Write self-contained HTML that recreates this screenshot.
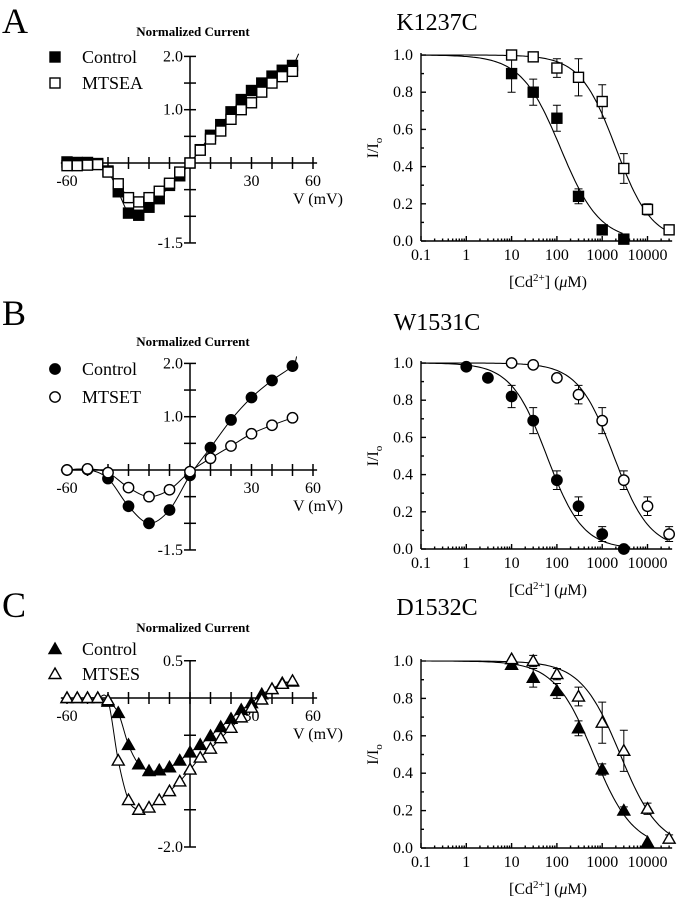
<!DOCTYPE html>
<html><head><meta charset="utf-8">
<style>
body{margin:0;background:#fff;}
svg{display:block;font-family:"Liberation Serif",serif;}
</style></head>
<body>
<svg id="fig" width="682" height="899" viewBox="0 0 682 899" xmlns="http://www.w3.org/2000/svg">
<g>
<text x="2" y="33" font-size="36">A</text>
<text x="437" y="30" font-size="24" text-anchor="middle">K1237C</text>
</g>
<g>
<text x="2" y="325" font-size="36">B</text>
<text x="437" y="330" font-size="24" text-anchor="middle">W1531C</text>
</g>
<g>
<text x="2" y="617" font-size="36">C</text>
<text x="437" y="615" font-size="24" text-anchor="middle">D1532C</text>
</g>
</svg>
<script>
// ---- IV data ----
const ivVA = [-60,-55,-50,-45,-40,-35,-30,-25,-20,-15,-10,-5,0,5,10,15,20,25,30,35,40,45,50];
const ivA_control = [0.02,0.01,0.01,-0.01,-0.15,-0.54,-0.94,-0.98,-0.83,-0.67,-0.42,-0.24,0,0.25,0.52,0.72,0.96,1.19,1.36,1.5,1.63,1.74,1.83];
const ivA_mtsea = [-0.05,-0.05,-0.04,-0.03,-0.17,-0.39,-0.65,-0.73,-0.65,-0.53,-0.38,-0.17,0,0.24,0.45,0.6,0.82,1.0,1.13,1.33,1.5,1.62,1.72];
const ivVB = [-60,-50,-40,-30,-20,-10,0,10,20,30,40,50];
const ivB_control = [0,0.01,-0.16,-0.68,-1.0,-0.75,-0.1,0.42,0.94,1.36,1.68,1.95];
const ivB_mtset = [0,0.02,-0.05,-0.33,-0.5,-0.37,-0.03,0.22,0.45,0.68,0.84,0.98];
const ivVC = [-60,-55,-50,-45,-40,-35,-30,-25,-20,-15,-10,-5,0,5,10,15,20,25,30,35,40,45,50];
const ivC_control = [0,0,0,0,-0.05,-0.2,-0.63,-0.89,-0.98,-0.97,-0.93,-0.84,-0.73,-0.63,-0.51,-0.39,-0.28,-0.16,-0.07,0.05,0.12,0.2,0.22];
const ivC_mtses = [0,0,0,0,-0.03,-0.84,-1.37,-1.5,-1.47,-1.37,-1.25,-1.12,-0.96,-0.8,-0.68,-0.54,-0.4,-0.26,-0.13,-0.02,0.12,0.19,0.23];
const ivYTicksAB = [2.0,1.5,1.0,0.5,0,-0.5,-1.0,-1.5];
const ivYLabelsAB = ["2.0","1.0","-1.5"];
const ivYTicksC = [0.5,0,-0.5,-1.0,-1.5,-2.0];
const ivYLabelsC = ["0.5","-2.0"];
const ivXTicks = [-60,-50,-40,-30,-20,-10,0,10,20,30,40,50,60];
const ivXLabels = ["-60","30","60"];
// ---- dose-response data ----
const drA_cConc = [10,30,100,300,1000,3000];
const drA_cVal = [0.9,0.8,0.66,0.24,0.06,0.01];
const drA_cErr = [0.1,0.07,0.07,0.04,0,0];
const drA_mConc = [10,30,100,300,1000,3000,10000,30000];
const drA_mVal = [1.0,0.99,0.93,0.88,0.75,0.39,0.17,0.06];
const drA_mErr = [0.02,0,0.05,0.1,0.09,0.08,0.03,0.02];
const drA_fits = [[120,1.0,3000],[2000,1.1,30000]];
const drB_cConc = [1,3,10,30,100,300,1000,3000];
const drB_cVal = [0.98,0.92,0.82,0.69,0.37,0.23,0.08,0.0];
const drB_cErr = [0,0,0.06,0.07,0.05,0.05,0.04,0];
const drB_mConc = [10,30,100,300,1000,3000,10000,30000];
const drB_mVal = [1.0,0.99,0.92,0.83,0.69,0.37,0.23,0.08];
const drB_mErr = [0,0,0,0.05,0.07,0.05,0.05,0.04];
const drB_fits = [[60,1.1,3000],[1800,1.1,30000]];
const drC_cConc = [10,30,100,300,1000,3000,10000];
const drC_cVal = [0.98,0.91,0.84,0.64,0.42,0.2,0.03];
const drC_cErr = [0.02,0.05,0.04,0.04,0.03,0.02,0];
const drC_mConc = [10,30,100,300,1000,3000,10000,30000];
const drC_mVal = [1.01,1.0,0.93,0.81,0.67,0.52,0.21,0.05];
const drC_mErr = [0,0.03,0.03,0.05,0.11,0.11,0.03,0.02];
const drC_fits = [[650,1.0,10000],[2500,1.0,30000]];
const drYTicks = [0,0.2,0.4,0.6,0.8,1.0];
const drYLabels = ["0.0","0.2","0.4","0.6","0.8","1.0"];
const drXDecades = [0.1,1,10,100,1000,10000];
const drXLabels = ["0.1","1","10","100","1000","10000"];

const NS="http://www.w3.org/2000/svg";
const svg=document.getElementById('fig');
function el(tag,attrs,parent,text){const e=document.createElementNS(NS,tag);for(const k in attrs)e.setAttribute(k,attrs[k]);if(text!==undefined)e.textContent=text;(parent||svg).appendChild(e);return e;}
function smoothPath(pts){let d=`M${pts[0][0]},${pts[0][1]}`;for(let i=0;i<pts.length-1;i++){const p0=pts[i-1]||pts[i],p1=pts[i],p2=pts[i+1],p3=pts[i+2]||p2;d+=` C${p1[0]+(p2[0]-p0[0])/6},${p1[1]+(p2[1]-p0[1])/6} ${p2[0]-(p3[0]-p1[0])/6},${p2[1]-(p3[1]-p1[1])/6} ${p2[0]},${p2[1]}`;}return d;}
function marker(g,shape,filled,x,y){
  const f=filled?'#000':'#fff';
  if(shape==='sq') return el('rect',{x:x-5,y:y-5,width:10,height:10,fill:f,stroke:'#000','stroke-width':1.4},g);
  if(shape==='ci') return el('circle',{cx:x,cy:y,r:5.2,fill:f,stroke:'#000','stroke-width':1.4},g);
  return el('polygon',{points:`${x},${y-6} ${x+6},${y+4.5} ${x-6},${y+4.5}`,fill:f,stroke:'#000','stroke-width':1.4},g);
}
function drawIV(cfg){
  const g=el('g',{},svg);
  
  
  const x0=190,pxmV=2.05;
  const X=v=>x0+v*pxmV, Y=v=>cfg.zero-v*cfg.unit;
  el('text',{x:193,y:cfg.titleY,'font-size':13,'font-weight':'bold','text-anchor':'middle'},g,'Normalized Current');
  const ax=el('g',{stroke:'#000','stroke-width':1.5},g);
  
  el('line',{x1:X(-63),y1:cfg.zero,x2:X(62),y2:cfg.zero},ax);
  el('line',{x1:x0,y1:Y(cfg.yTicks[0]),x2:x0,y2:Y(cfg.yTicks[cfg.yTicks.length-1])},ax);
  ivXTicks.forEach(t=>el('line',{x1:X(t),y1:cfg.zero-6,x2:X(t),y2:cfg.zero+6},ax));
  cfg.yTicks.forEach(t=>{if(t!==0)el('line',{x1:x0-6,y1:Y(t),x2:x0+6,y2:Y(t)},ax);});
  cfg.yLabels.forEach(l=>{const t=el('text',{x:183,y:Y(parseFloat(l))+5,'font-size':16,'text-anchor':'end'},g,l);});
  ivXLabels.forEach(l=>{const t=el('text',{x:X(parseFloat(l)),y:cfg.zero+23,'font-size':16,'text-anchor':'middle'},g,l);});
  el('text',{x:318,y:cfg.zero+41,'font-size':16,'text-anchor':'middle'},g,'V (mV)');
  cfg.series.forEach((s,i)=>{
    const sg=el('g',{},g);
    
    
    const pts=s.v.map((v,j)=>[X(s.x[j]),Y(v)]);
    if(s.ext) pts.push([X(s.ext[0]),Y(s.ext[1])]);
    el('path',{d:smoothPath(pts),fill:'none',stroke:'#000','stroke-width':1},sg);
    s.v.forEach((v,j)=>{const m=marker(sg,cfg.shape,i===0,X(s.x[j]),Y(v));});
    const ly=cfg.legY[i];
    const lg=el('g',{},g);
    
    
    marker(lg,cfg.shape,i===0,55,ly);
    el('text',{x:82,y:ly+6,'font-size':18},lg,s.label);
  });
}
drawIV({name:'iv-plot-a',zero:163,unit:53.3,titleY:36,yTicks:ivYTicksAB,yLabels:ivYLabelsAB,shape:'sq',legY:[57,83],
  series:[{label:'Control',x:ivVA,v:ivA_control,ext:[53,2.05]},{label:'MTSEA',x:ivVA,v:ivA_mtsea}]});
drawIV({name:'iv-plot-b',zero:470,unit:53.3,titleY:346,yTicks:ivYTicksAB,yLabels:ivYLabelsAB,shape:'ci',legY:[369,397],
  series:[{label:'Control',x:ivVB,v:ivB_control,ext:[52,2.13]},{label:'MTSET',x:ivVB,v:ivB_mtset}]});
drawIV({name:'iv-plot-c',zero:698,unit:74.5,titleY:632,yTicks:ivYTicksC,yLabels:ivYLabelsC,shape:'tr',legY:[649,674],
  series:[{label:'Control',x:ivVC,v:ivC_control},{label:'MTSES',x:ivVC,v:ivC_mtses}]});

function drawDR(cfg){
  const g=el('g',{},svg);
  
  
  const x0=421,dec=45.3,zero=cfg.zero,top=cfg.top,h=zero-top;
  const X=c=>x0+(Math.log10(c)+1)*dec, Y=v=>zero-v*h;
  const ax=el('g',{stroke:'#000','stroke-width':1.4},g);
  
  el('line',{x1:x0,y1:top-2,x2:x0,y2:zero},ax);
  el('line',{x1:x0,y1:zero,x2:X(35000),y2:zero},ax);
  drYTicks.forEach(t=>el('line',{x1:x0,y1:Y(t),x2:x0+5,y2:Y(t)},ax));
  drYTicks.slice(0,-1).forEach(t=>el('line',{x1:x0,y1:Y(t+0.1),x2:x0+3,y2:Y(t+0.1)},ax));
  drXDecades.forEach(d=>{el('line',{x1:X(d),y1:zero,x2:X(d),y2:zero-5},ax);for(let k=2;k<10;k++){if(d*k<=30000)el('line',{x1:X(d*k),y1:zero,x2:X(d*k),y2:zero-2.5},ax);}});
  drYLabels.forEach((l,i)=>{const t=el('text',{x:413,y:Y(drYTicks[i])+5,'font-size':16,'text-anchor':'end'},g,l);});
  drXLabels.forEach((l,i)=>{const t=el('text',{x:X(drXDecades[i]),y:zero+19,'font-size':16,'text-anchor':'middle'},g,l);});
  const yl=el('text',{x:0,y:0,'font-size':16,'text-anchor':'middle',transform:`translate(378,${(top+zero)/2}) rotate(-90)`},g);
  
  yl.innerHTML='I/I<tspan font-size="11" dy="4">o</tspan>';
  const xl=el('text',{x:548,y:zero+46,'font-size':16,'text-anchor':'middle'},g);
  
  xl.innerHTML='[Cd<tspan font-size="11" dy="-6">2+</tspan><tspan dy="6">]  (</tspan><tspan font-style="italic">μ</tspan>M)';
  cfg.series.forEach((s,i)=>{
    const sg=el('g',{},g);
    
    
    const [ic,n,cmax]=s.fit;const pts=[];
    for(let lx=-1;lx<=Math.log10(cmax)+1e-9;lx+=0.05){const c=Math.pow(10,lx);pts.push(`${X(c).toFixed(1)},${Y(1/(1+Math.pow(c/ic,n))).toFixed(1)}`);}
    el('polyline',{points:pts.join(' '),fill:'none',stroke:'#000','stroke-width':1.1},sg);
    s.c.forEach((c,j)=>{
      if(s.e[j]>0){const x=X(c);el('path',{d:`M${x},${Y(s.v[j]+s.e[j])}V${Y(s.v[j]-s.e[j])}M${x-4},${Y(s.v[j]+s.e[j])}h8M${x-4},${Y(s.v[j]-s.e[j])}h8`,stroke:'#000','stroke-width':1,fill:'none'},sg);}
      const m=marker(sg,cfg.shape,i===0,X(c),Y(s.v[j]));
      
      
    });
  });
}
drawDR({name:'dose-plot-a',zero:241,top:55,shape:'sq',series:[{c:drA_cConc,v:drA_cVal,e:drA_cErr,fit:drA_fits[0]},{c:drA_mConc,v:drA_mVal,e:drA_mErr,fit:drA_fits[1]}]});
drawDR({name:'dose-plot-b',zero:549,top:363,shape:'ci',series:[{c:drB_cConc,v:drB_cVal,e:drB_cErr,fit:drB_fits[0]},{c:drB_mConc,v:drB_mVal,e:drB_mErr,fit:drB_fits[1]}]});
drawDR({name:'dose-plot-c',zero:848,top:661,shape:'tr',series:[{c:drC_cConc,v:drC_cVal,e:drC_cErr,fit:drC_fits[0]},{c:drC_mConc,v:drC_mVal,e:drC_mErr,fit:drC_fits[1]}]});
</script>
</body></html>
